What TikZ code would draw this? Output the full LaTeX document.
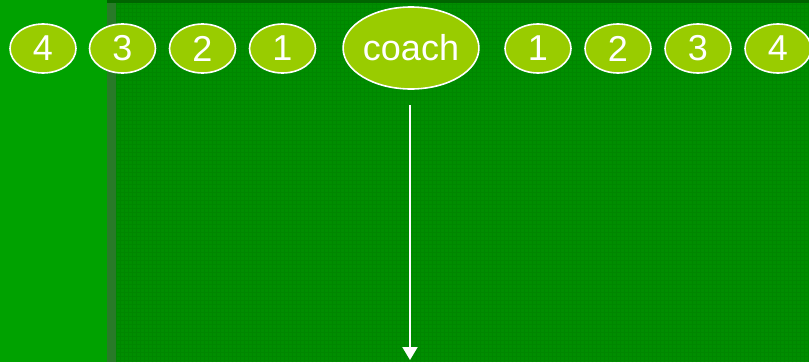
\documentclass[tikz,border=0pt]{standalone}
\usepackage{fontspec}
\setmainfont{Liberation Sans}
\usetikzlibrary{shapes.geometric,arrows.meta}
\definecolor{leftgreen}{RGB}{0,162,0}
\definecolor{bandgreen}{RGB}{40,122,40}
\definecolor{maingreen}{RGB}{0,142,0}
\definecolor{gridgreen}{RGB}{0,134,0}
\definecolor{topgreen}{RGB}{0,100,0}
\definecolor{pill}{RGB}{153,204,0}
\tikzset{
  player/.style={ellipse, draw=white, line width=1.6pt, fill=pill, text=white,
    minimum width=66pt, minimum height=49pt, inner sep=0pt,
    font=\fontsize{36}{40}\selectfont},
  coachbox/.style={player, minimum width=130pt, minimum height=82pt},
  runarrow/.style={draw=white, line width=2pt, -{Triangle[width=15pt,length=13pt]}}
}
\begin{document}
\begin{tikzpicture}[x=1pt,y=-1pt]
\useasboundingbox (0,0) rectangle (809,362);
\fill[maingreen] (0,0) rectangle (809,362);
\draw[gridgreen, line width=0.5pt, step=4pt] (116,0) grid (809,362);
\fill[leftgreen] (0,0) rectangle (107,362);
\fill[bandgreen] (107,0) rectangle (116,362);
\fill[topgreen] (107,0) rectangle (809,3);
\node[player] (l4) at (43,48.5) {4};
\node[player] (l3) at (122.5,48.5) {3};
\node[player] (l2) at (202.5,48.5) {2};
\node[player] (l1) at (282.5,48.5) {1};
\node[coachbox] (coach) at (411,48) {coach};
\node[player] (r1) at (538,48.5) {1};
\node[player] (r2) at (618,48.5) {2};
\node[player] (r3) at (698,48.5) {3};
\node[player] (r4) at (778,48.5) {4};
\coordinate (start) at (410,105);
\coordinate (end) at (410,360);
\draw[runarrow] (start) -- (end);
\end{tikzpicture}
\end{document}
